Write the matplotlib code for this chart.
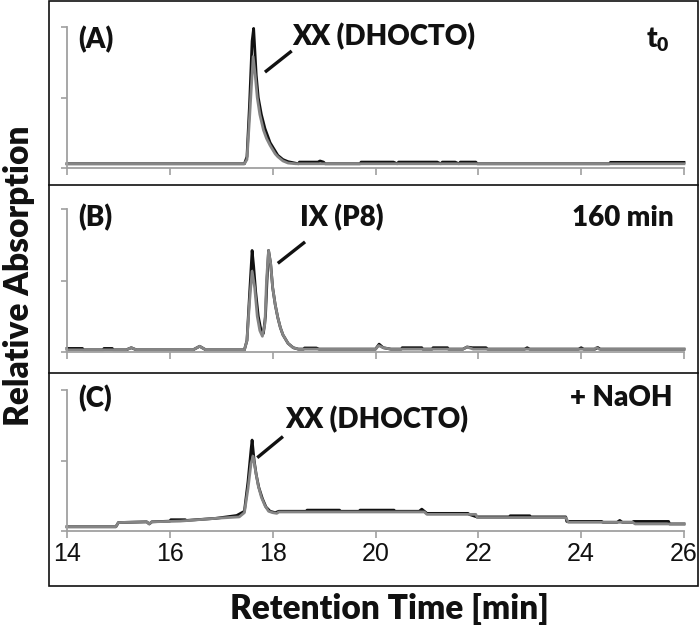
import matplotlib
matplotlib.use("Agg")
import matplotlib.pyplot as plt
from matplotlib.lines import Line2D
from matplotlib.patches import Rectangle

plt.rcParams['font.family'] = ['Lato', 'DejaVu Sans']
plt.rcParams['mathtext.fontset'] = 'custom'
plt.rcParams['mathtext.rm'] = 'Lato:heavy'
plt.rcParams['mathtext.it'] = 'Lato:heavy'
plt.rcParams['mathtext.bf'] = 'Lato:heavy'

# ---- data (relative absorption 0..1) ----
# (A) t0
a_black_t = [14.0, 17.45, 17.5, 17.55, 17.6, 17.63, 17.68, 17.72, 17.78, 17.85, 17.9, 17.95, 18.0,
             18.05, 18.1, 18.2, 18.3, 18.5, 18.52, 18.88, 18.92, 18.99, 19.02, 19.7, 19.72, 20.35,
             20.42, 20.45, 21.2, 21.27, 21.3, 21.55, 21.62, 21.65, 21.95, 21.98, 24.55, 24.57, 26.0]
a_black_v = [0.03, 0.03, 0.08, 0.45, 0.9, 0.99, 0.66, 0.5, 0.38, 0.28, 0.23, 0.18, 0.15,
             0.12, 0.09, 0.06, 0.045, 0.03, 0.042, 0.042, 0.05, 0.042, 0.03, 0.03, 0.042, 0.042,
             0.03, 0.042, 0.042, 0.03, 0.042, 0.042, 0.03, 0.042, 0.042, 0.03, 0.03, 0.04, 0.04]
a_grey_t = [14.0, 17.45, 17.5, 17.55, 17.62, 17.66, 17.7, 17.75, 17.82, 17.88, 17.95, 18.0, 18.05,
            18.1, 18.2, 18.3, 18.45, 26.0]
a_grey_v = [0.03, 0.03, 0.06, 0.35, 0.79, 0.66, 0.5, 0.38, 0.27, 0.21, 0.16, 0.13, 0.1,
            0.08, 0.05, 0.035, 0.03, 0.03]

# (B) 160 min
b_black_t = [14.0, 14.3, 14.32, 14.7, 14.72, 14.88, 14.9, 15.15, 15.25, 15.35, 16.45, 16.58, 16.7,
             17.45, 17.5, 17.55, 17.6, 17.63, 17.67, 17.72, 17.78, 17.82, 17.86, 17.89, 17.92,
             17.96, 18.0, 18.05, 18.1, 18.15, 18.2, 18.3, 18.4, 18.5, 18.6, 18.62, 18.85, 18.9,
             20.0, 20.07, 20.15, 20.3, 20.5, 20.52, 20.9, 20.92, 21.1, 21.12, 21.4, 21.42, 21.7,
             21.78, 21.88, 22.15, 22.18, 22.9, 22.95, 23.0, 23.95, 24.0, 24.05, 24.27, 24.32,
             24.37, 26.0]
b_black_v = [0.025, 0.025, 0.015, 0.015, 0.025, 0.025, 0.015, 0.015, 0.03, 0.015, 0.015, 0.04, 0.015,
             0.015, 0.08, 0.4, 0.71, 0.6, 0.42, 0.25, 0.14, 0.13, 0.25, 0.5, 0.71,
             0.62, 0.45, 0.33, 0.24, 0.17, 0.12, 0.06, 0.03, 0.02, 0.02, 0.028, 0.028, 0.02,
             0.02, 0.055, 0.03, 0.02, 0.02, 0.03, 0.03, 0.02, 0.02, 0.03, 0.03, 0.02, 0.02,
             0.035, 0.03, 0.03, 0.02, 0.02, 0.03, 0.02, 0.02, 0.03, 0.02, 0.02, 0.032,
             0.02, 0.02]
b_grey_t = [14.0, 15.15, 15.25, 15.35, 16.45, 16.58, 16.7, 17.45, 17.5, 17.55, 17.6, 17.65, 17.7,
            17.75, 17.8, 17.85, 17.88, 17.92, 17.96, 18.0, 18.05, 18.1, 18.15, 18.2, 18.3, 18.4,
            18.5, 20.0, 20.06, 20.15, 20.3, 21.7, 21.78, 21.9, 24.25, 24.3, 24.35, 26.0]
b_grey_v = [0.015, 0.015, 0.03, 0.015, 0.015, 0.04, 0.015, 0.015, 0.08, 0.35, 0.565, 0.45, 0.25,
            0.15, 0.11, 0.2, 0.5, 0.71, 0.62, 0.45, 0.33, 0.24, 0.17, 0.12, 0.06, 0.03,
            0.02, 0.02, 0.045, 0.03, 0.02, 0.02, 0.035, 0.02, 0.02, 0.03, 0.02, 0.02]

# (C) + NaOH
c_black_t = [14.0, 14.95, 15.0, 15.55, 15.6, 15.65, 16.0, 16.02, 16.3, 16.32, 16.9, 17.3, 17.45,
             17.52, 17.58, 17.6, 17.64, 17.68, 17.73, 17.8, 17.87, 17.95, 18.05, 18.12, 18.65,
             18.67, 19.3, 19.32, 19.68, 19.7, 20.36, 20.38, 20.85, 20.9, 20.95, 21.0, 21.8, 21.82,
             21.97, 22.6, 22.62, 23.0, 23.02, 23.7, 23.72, 24.4, 24.42, 24.7, 24.75, 24.8, 25.0,
             25.02, 25.7, 25.72, 26.0]
c_black_v = [0.03, 0.03, 0.06, 0.065, 0.05, 0.065, 0.07, 0.08, 0.08, 0.075, 0.09, 0.11, 0.14,
             0.35, 0.58, 0.645, 0.5, 0.4, 0.31, 0.23, 0.17, 0.14, 0.13, 0.14, 0.14,
             0.148, 0.148, 0.14, 0.14, 0.148, 0.148, 0.14, 0.14, 0.155, 0.14, 0.125, 0.125, 0.118,
             0.1, 0.1, 0.108, 0.108, 0.1, 0.1, 0.068, 0.068, 0.062, 0.062, 0.075, 0.062, 0.062,
             0.068, 0.068, 0.05, 0.05]
c_grey_t = [14.0, 14.95, 15.0, 15.55, 15.6, 15.65, 16.2, 16.9, 17.35, 17.45, 17.52, 17.58, 17.62,
            17.67, 17.72, 17.78, 17.85, 17.92, 18.0, 18.08, 18.12, 20.95, 21.0, 21.95, 21.98,
            23.7, 23.75, 25.0, 25.05, 26.0]
c_grey_v = [0.03, 0.03, 0.06, 0.065, 0.05, 0.065, 0.07, 0.09, 0.1, 0.13, 0.3, 0.48, 0.53,
            0.42, 0.32, 0.24, 0.18, 0.14, 0.13, 0.125, 0.135, 0.135, 0.118, 0.118, 0.095,
            0.095, 0.062, 0.062, 0.05, 0.05]

panels = [
    ("(A)", r"$\mathrm{t}_{\mathrm{0}}$", "XX (DHOCTO)", a_black_t, a_black_v, a_grey_t, a_grey_v),
    ("(B)", "160 min", "IX (P8)", b_black_t, b_black_v, b_grey_t, b_grey_v),
    ("(C)", "+ NaOH", "XX (DHOCTO)", c_black_t, c_black_v, c_grey_t, c_grey_v),
]
# label / leader line placement (data coords)
label_pos = [(18.37, 0.93), (18.53, 0.94), (18.24, 0.79)]
leader = [((17.85, 18.37), (0.68, 0.83)), ((18.1, 18.63), (0.62, 0.77)), ((17.7, 18.2), (0.52, 0.67))]
corner_y = [0.91, 0.94, 0.94]
right_x = [25.72, 25.8, 25.77]

fig = plt.figure(figsize=(7.0, 6.27), dpi=100)
W, H = 700.0, 627.0

# outer frame and separators
fig.add_artist(Rectangle((49 / W, 1 - 586 / H), (698 - 49) / W, (586 - 1) / H,
                         transform=fig.transFigure, fill=False, lw=1.2, ec='#111111'))
for yy in [185, 373]:
    fig.add_artist(Line2D([49 / W, 698 / W], [1 - yy / H, 1 - yy / H],
                          transform=fig.transFigure, lw=1.2, color='#111111'))

axes_px = [(27, 168), (209, 352), (390, 531)]
axis_grey = '#a0a0a0'
txt_size = 20
wt = 'heavy'

for i, (top, bot) in enumerate(axes_px):
    ax = fig.add_axes([67 / W, 1 - bot / H, (684 - 67) / W, (bot - top) / H])
    ax.patch.set_alpha(0)
    tag, cond, name, bt, bv, gt, gv = panels[i]
    ax.plot(bt, bv, color='#111111', lw=2.0, solid_joinstyle='round', clip_on=False)
    ax.plot(gt, gv, color='#858585', lw=2.0, solid_joinstyle='round', clip_on=False)

    ax.set_xlim(14, 26)
    ax.set_ylim(0, 1)
    for s in ['top', 'right']:
        ax.spines[s].set_visible(False)
    for s in ['left', 'bottom']:
        ax.spines[s].set_color(axis_grey)
        ax.spines[s].set_linewidth(1.3)
    ax.set_xticks(range(14, 27, 2))
    ax.set_yticks([0, 0.5, 1])
    ax.set_yticklabels([])
    ax.tick_params(axis='both', direction='out', color=axis_grey, width=1.2)
    ax.tick_params(axis='x', length=5)
    ax.tick_params(axis='y', length=4)
    if i < 2:
        ax.set_xticklabels([])
    else:
        ax.tick_params(axis='x', labelsize=18, pad=3, labelcolor='#111111')
        for lab in ax.get_xticklabels():
            lab.set_family('Liberation Sans')

    ax.text(14.21, corner_y[i], tag, fontsize=txt_size, fontweight=wt, ha='left', va='center',
            color='#111111')
    ax.text(right_x[i], corner_y[i], cond, fontsize=txt_size, fontweight=wt, ha='right',
            va='center', color='#111111')
    lx, ly = label_pos[i]
    ax.text(lx, ly, name, fontsize=txt_size, fontweight=wt, ha='left', va='center',
            color='#111111')
    ax.plot(leader[i][0], leader[i][1], color='#111111', lw=2.4, solid_capstyle='butt')

fig.text(389 / W, 1 - 609 / H, "Retention Time [min]", fontsize=24, fontweight=wt,
         ha='center', va='center', color='#111111')
fig.text(19 / W, 1 - 276 / H, "Relative Absorption", fontsize=24, fontweight=wt,
         ha='center', va='center', rotation=90, color='#111111')

fig.savefig("out.png", dpi=100)
